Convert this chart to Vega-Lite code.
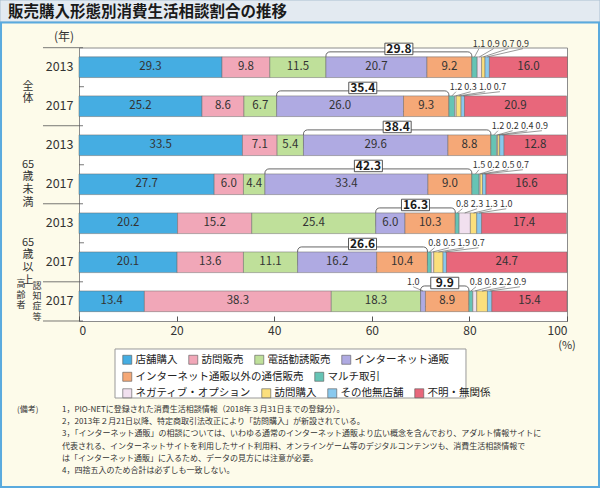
{
  "$schema": "https://vega.github.io/schema/vega-lite/v6.json",
  "width": 488,
  "height": 273.5,
  "autosize": {"type": "none"},
  "padding": {"left": 79, "top": 47.5, "right": 33, "bottom": 167},
  "background": "#fdfbea",
  "config": {
    "font": "Noto Sans CJK JP",
    "view": {"fill": "white", "stroke": "#8c8c8c", "strokeWidth": 1},
    "legend": {
      "orient": "none",
      "direction": "horizontal",
      "title": null,
      "padding": 0,
      "labelFontSize": 10.5,
      "labelColor": "#222",
      "labelLimit": 400,
      "symbolType": "square",
      "symbolSize": 81,
      "symbolStrokeColor": "#555",
      "symbolStrokeWidth": 0.6,
      "symbolOpacity": 1,
      "columnPadding": 9,
      "labelOffset": 3
    }
  },
  "datasets": {
    "main": [
      {"r": "a2013", "c": "店舗購入", "v": 29.3},
      {"r": "a2013", "c": "訪問販売", "v": 9.8},
      {"r": "a2013", "c": "電話勧誘販売", "v": 11.5},
      {"r": "a2013", "c": "インターネット通販", "v": 20.7},
      {"r": "a2013", "c": "インターネット通販以外の通信販売", "v": 9.2},
      {"r": "a2013", "c": "マルチ取引", "v": 1.1},
      {"r": "a2013", "c": "ネガティブ・オプション", "v": 0.9},
      {"r": "a2013", "c": "訪問購入", "v": 0.7},
      {"r": "a2013", "c": "その他無店舗", "v": 0.9},
      {"r": "a2013", "c": "不明・無関係", "v": 16.0},
      {"r": "a2017", "c": "店舗購入", "v": 25.2},
      {"r": "a2017", "c": "訪問販売", "v": 8.6},
      {"r": "a2017", "c": "電話勧誘販売", "v": 6.7},
      {"r": "a2017", "c": "インターネット通販", "v": 26.0},
      {"r": "a2017", "c": "インターネット通販以外の通信販売", "v": 9.3},
      {"r": "a2017", "c": "マルチ取引", "v": 1.2},
      {"r": "a2017", "c": "ネガティブ・オプション", "v": 0.3},
      {"r": "a2017", "c": "訪問購入", "v": 1.0},
      {"r": "a2017", "c": "その他無店舗", "v": 0.7},
      {"r": "a2017", "c": "不明・無関係", "v": 20.9},
      {"r": "b2013", "c": "店舗購入", "v": 33.5},
      {"r": "b2013", "c": "訪問販売", "v": 7.1},
      {"r": "b2013", "c": "電話勧誘販売", "v": 5.4},
      {"r": "b2013", "c": "インターネット通販", "v": 29.6},
      {"r": "b2013", "c": "インターネット通販以外の通信販売", "v": 8.8},
      {"r": "b2013", "c": "マルチ取引", "v": 1.2},
      {"r": "b2013", "c": "ネガティブ・オプション", "v": 0.2},
      {"r": "b2013", "c": "訪問購入", "v": 0.4},
      {"r": "b2013", "c": "その他無店舗", "v": 0.9},
      {"r": "b2013", "c": "不明・無関係", "v": 12.8},
      {"r": "b2017", "c": "店舗購入", "v": 27.7},
      {"r": "b2017", "c": "訪問販売", "v": 6.0},
      {"r": "b2017", "c": "電話勧誘販売", "v": 4.4},
      {"r": "b2017", "c": "インターネット通販", "v": 33.4},
      {"r": "b2017", "c": "インターネット通販以外の通信販売", "v": 9.0},
      {"r": "b2017", "c": "マルチ取引", "v": 1.5},
      {"r": "b2017", "c": "ネガティブ・オプション", "v": 0.2},
      {"r": "b2017", "c": "訪問購入", "v": 0.5},
      {"r": "b2017", "c": "その他無店舗", "v": 0.7},
      {"r": "b2017", "c": "不明・無関係", "v": 16.6},
      {"r": "c2013", "c": "店舗購入", "v": 20.2},
      {"r": "c2013", "c": "訪問販売", "v": 15.2},
      {"r": "c2013", "c": "電話勧誘販売", "v": 25.4},
      {"r": "c2013", "c": "インターネット通販", "v": 6.0},
      {"r": "c2013", "c": "インターネット通販以外の通信販売", "v": 10.3},
      {"r": "c2013", "c": "マルチ取引", "v": 0.8},
      {"r": "c2013", "c": "ネガティブ・オプション", "v": 2.3},
      {"r": "c2013", "c": "訪問購入", "v": 1.3},
      {"r": "c2013", "c": "その他無店舗", "v": 1.0},
      {"r": "c2013", "c": "不明・無関係", "v": 17.4},
      {"r": "c2017", "c": "店舗購入", "v": 20.1},
      {"r": "c2017", "c": "訪問販売", "v": 13.6},
      {"r": "c2017", "c": "電話勧誘販売", "v": 11.1},
      {"r": "c2017", "c": "インターネット通販", "v": 16.2},
      {"r": "c2017", "c": "インターネット通販以外の通信販売", "v": 10.4},
      {"r": "c2017", "c": "マルチ取引", "v": 0.8},
      {"r": "c2017", "c": "ネガティブ・オプション", "v": 0.5},
      {"r": "c2017", "c": "訪問購入", "v": 1.9},
      {"r": "c2017", "c": "その他無店舗", "v": 0.7},
      {"r": "c2017", "c": "不明・無関係", "v": 24.7},
      {"r": "d2017", "c": "店舗購入", "v": 13.4},
      {"r": "d2017", "c": "訪問販売", "v": 38.3},
      {"r": "d2017", "c": "電話勧誘販売", "v": 18.3},
      {"r": "d2017", "c": "インターネット通販", "v": 1.0},
      {"r": "d2017", "c": "インターネット通販以外の通信販売", "v": 8.9},
      {"r": "d2017", "c": "マルチ取引", "v": 0.8},
      {"r": "d2017", "c": "ネガティブ・オプション", "v": 0.8},
      {"r": "d2017", "c": "訪問購入", "v": 2.2},
      {"r": "d2017", "c": "その他無店舗", "v": 0.9},
      {"r": "d2017", "c": "不明・無関係", "v": 15.4}
    ],
    "brackets": [
      {"r": "a2013", "t": 29.8},
      {"r": "a2017", "t": 35.4},
      {"r": "b2013", "t": 38.4},
      {"r": "b2017", "t": 42.3},
      {"r": "c2013", "t": 16.3},
      {"r": "c2017", "t": 26.6},
      {"r": "d2017", "t": 9.9}
    ],
    "groups": [
      {"r": "a2013", "t": ["全", "体"]},
      {"r": "b2013", "t": ["65", "歳", "未", "満"]},
      {"r": "c2013", "t": ["65", "歳", "以", "上"]}
    ],
    "seps": [{"r": "a2013"}, {"r": "b2013"}, {"r": "c2013"}, {"r": "d2017"}],
    "ticks": [{"r": "a2017"}, {"r": "b2017"}, {"r": "c2017"}]
  },
  "layer": [
    {
      "data": {"values": [{}]},
      "mark": {"type": "rect", "fill": "#e3eaf1", "stroke": "#9fb8cc", "strokeWidth": 0.8, "height": {"band": 1.064}, "yOffset": -56.2},
      "encoding": {
        "x": {"datum": -16.19, "type": "quantitative", "scale": {"domain": [0, 100]}},
        "x2": {"datum": 106.76},
        "y": {"datum": "a2013", "type": "nominal"}
      }
    },
    {
      "data": {"values": [{}]},
      "mark": {"type": "rect", "fill": "transparent", "stroke": "#5aaade", "strokeWidth": 2, "height": {"band": 22.46}, "yOffset": 187.5},
      "encoding": {
        "x": {"datum": -15.98, "type": "quantitative", "scale": {"domain": [0, 100]}},
        "x2": {"datum": 106.56},
        "y": {"datum": "a2013", "type": "nominal"}
      }
    },
    {
      "data": {"values": [{}]},
      "mark": {"type": "text", "text": "販売購入形態別消費生活相談割合の推移", "fontSize": 15.5, "fontWeight": "bold", "color": "#1a1a1a", "align": "left", "baseline": "middle", "yOffset": -55.7},
      "encoding": {
        "x": {"datum": -14.55, "type": "quantitative", "scale": {"domain": [0, 100]}},
        "y": {"datum": "a2013", "type": "nominal"}
      }
    },
    {
      "data": {"values": [{}]},
      "mark": {"type": "rect", "fill": "white", "stroke": "#999", "strokeWidth": 1, "height": {"band": 2.37}, "yOffset": 72.2},
      "encoding": {
        "x": {"datum": 7.38, "type": "quantitative", "scale": {"domain": [0, 100]}},
        "x2": {"datum": 79.3},
        "y": {"datum": "d2017", "type": "nominal"}
      }
    },
    {
      "data": {"name": "main"},
      "transform": [
        {"lookup": "r", "from": {"data": {"name": "brackets"}, "key": "r", "fields": ["t"]}},
        {"calculate": "indexof(['店舗購入','訪問販売','電話勧誘販売','インターネット通販','インターネット通販以外の通信販売','マルチ取引','ネガティブ・オプション','訪問購入','その他無店舗','不明・無関係'], datum.c)", "as": "k"},
        {"stack": "v", "groupby": ["r"], "sort": [{"field": "k", "order": "ascending"}], "as": ["x0", "x1"]},
        {"calculate": "(datum.x0 + datum.x1) / 2", "as": "xm"},
        {"calculate": "datum.k == 5 ? datum.x0 : null", "as": "m0"},
        {"calculate": "datum.k == 3 ? datum.x0 : null", "as": "b0"},
        {"calculate": "datum.k == 4 ? datum.x1 : null", "as": "b1"},
        {"joinaggregate": [
          {"op": "max", "field": "m0", "as": "ms"},
          {"op": "max", "field": "b0", "as": "bs"},
          {"op": "max", "field": "b1", "as": "be"}
        ], "groupby": ["r"]},
        {"calculate": "datum.k >= 5 && datum.k <= 8 ? datum.ms + 1.45 + (datum.k - 5) * 3.0 : datum.x0 - 1.5", "as": "lx"},
        {"calculate": "(datum.bs + datum.be) / 2", "as": "bm"}
      ],
      "encoding": {
        "y": {
          "field": "r",
          "type": "nominal",
          "scale": {
            "domain": ["a2013", "a2017", "b2013", "b2017", "c2013", "c2017", "d2017"],
            "paddingInner": 0.47,
            "paddingOuter": 0.24
          },
          "axis": {
            "title": "(年)",
            "titleAngle": 0,
            "titleX": -15.5,
            "titleY": -11,
            "titleAlign": "center",
            "titleBaseline": "middle",
            "titleFontSize": 12,
            "titleFontWeight": "normal",
            "titleColor": "#333",
            "labelExpr": "substring(datum.value, 1)",
            "labelFontSize": 12.5,
            "labelColor": "#333",
            "labelPadding": 6,
            "ticks": false,
            "domain": false,
            "grid": false
          }
        },
        "x": {
          "field": "x0",
          "type": "quantitative",
          "scale": {"domain": [0, 100]},
          "axis": {
            "title": "(%)",
            "titleX": 487.5,
            "titleY": 24,
            "titleAlign": "center",
            "titleBaseline": "middle",
            "titleFontSize": 11,
            "titleFontWeight": "normal",
            "titleColor": "#333",
            "values": [0, 20, 40, 60, 80, 100],
            "tickSize": -5,
            "tickColor": "#555",
            "labelPadding": 9,
            "labelFontSize": 12,
            "labelColor": "#333",
            "domain": false,
            "grid": false
          }
        }
      },
      "resolve": {"scale": {"color": "independent"}},
      "layer": [
        {
          "transform": [{"filter": "datum.k == 3"}],
          "mark": {"type": "rect", "fill": "transparent", "stroke": "#555", "strokeWidth": 0.9, "cornerRadius": 4, "yOffset": -5},
          "encoding": {
            "x": {"field": "bs", "type": "quantitative"},
            "x2": {"field": "be"}
          }
        },
        {
          "transform": [{"filter": "datum.k <= 3"}],
          "mark": {"type": "bar", "stroke": "#6a6a6a", "strokeWidth": 0.5},
          "encoding": {
            "x2": {"field": "x1"},
            "color": {
              "field": "c",
              "type": "nominal",
              "scale": {
                "domain": ["店舗購入", "訪問販売", "電話勧誘販売", "インターネット通販"],
                "range": ["#45ade2", "#f1a7b8", "#bfe09a", "#afaae2"]
              },
              "legend": {"legendX": 43, "legendY": 307, "encode": {"symbols": {"update": {"stroke": {"value": "#555"}}}}}
            }
          }
        },
        {
          "transform": [{"filter": "datum.k == 4 || datum.k == 5"}],
          "mark": {"type": "bar", "stroke": "#6a6a6a", "strokeWidth": 0.5},
          "encoding": {
            "x2": {"field": "x1"},
            "color": {
              "field": "c",
              "type": "nominal",
              "scale": {
                "domain": ["インターネット通販以外の通信販売", "マルチ取引"],
                "range": ["#f5a877", "#66c4b5"]
              },
              "legend": {"legendX": 43, "legendY": 324, "encode": {"symbols": {"update": {"stroke": {"value": "#555"}}}}}
            }
          }
        },
        {
          "transform": [{"filter": "datum.k >= 6"}],
          "mark": {"type": "bar", "stroke": "#6a6a6a", "strokeWidth": 0.5},
          "encoding": {
            "x2": {"field": "x1"},
            "color": {
              "field": "c",
              "type": "nominal",
              "scale": {
                "domain": ["ネガティブ・オプション", "訪問購入", "その他無店舗", "不明・無関係"],
                "range": ["#f1e0ef", "#fbdf7c", "#89c9ee", "#e8677b"]
              },
              "legend": {"legendX": 43, "legendY": 340.5, "encode": {"symbols": {"update": {"stroke": {"value": "#555"}}}}}
            }
          }
        },
        {
          "transform": [{"filter": "(datum.k <= 4 || datum.k == 9) && datum.v >= 3"}],
          "mark": {"type": "text", "fontSize": 11.5, "color": "#333", "baseline": "middle"},
          "encoding": {
            "x": {"field": "xm", "type": "quantitative"},
            "text": {"field": "v", "type": "quantitative", "format": ".1f"}
          }
        },
        {
          "transform": [{"filter": "((datum.k >= 5 && datum.k <= 8) || (datum.k == 3 && datum.v < 3)) && datum.r != 'a2013'"}],
          "mark": {"type": "rule", "stroke": "#555", "strokeWidth": 0.6, "yOffset": -10.3, "y2Offset": -14.5},
          "encoding": {
            "x": {"field": "xm", "type": "quantitative"},
            "x2": {"field": "lx"},
            "y2": {"field": "r"}
          }
        },
        {
          "transform": [{"filter": "((datum.k >= 5 && datum.k <= 8) || (datum.k == 3 && datum.v < 3)) && datum.r != 'a2013'"}],
          "mark": {"type": "text", "fontSize": 9, "color": "#333", "baseline": "middle", "yOffset": -19.5},
          "encoding": {
            "x": {"field": "lx", "type": "quantitative"},
            "text": {"field": "v", "type": "quantitative", "format": ".1f"}
          }
        },
        {
          "transform": [{"filter": "datum.k >= 5 && datum.k <= 8 && datum.r == 'a2013'"}],
          "mark": {"type": "rule", "stroke": "#555", "strokeWidth": 0.6, "yOffset": -10.3, "y2Offset": -18.5},
          "encoding": {
            "x": {"field": "xm", "type": "quantitative"},
            "x2": {"field": "lx"},
            "y2": {"field": "r"}
          }
        },
        {
          "transform": [{"filter": "datum.k >= 5 && datum.k <= 8 && datum.r == 'a2013'"}],
          "mark": {"type": "text", "fontSize": 9, "color": "#333", "baseline": "middle", "yOffset": -23.5},
          "encoding": {
            "x": {"field": "lx", "type": "quantitative"},
            "text": {"field": "v", "type": "quantitative", "format": ".1f"}
          }
        },
        {
          "transform": [{"filter": "datum.k == 3"}],
          "mark": {"type": "point", "shape": "M-1,-0.41H1V0.41H-1Z", "size": 784, "filled": true, "fill": "white", "stroke": "#444", "strokeWidth": 0.9, "opacity": 1, "yOffset": -18.3},
          "encoding": {
            "x": {"field": "bm", "type": "quantitative"}
          }
        },
        {
          "transform": [{"filter": "datum.k == 3"}],
          "mark": {"type": "text", "fontSize": 12, "fontWeight": "bold", "color": "#1a1a1a", "baseline": "middle", "yOffset": -18.3},
          "encoding": {
            "x": {"field": "bm", "type": "quantitative"},
            "text": {"field": "t", "type": "quantitative", "format": ".1f"}
          }
        }
      ]
    },
    {
      "data": {"name": "seps"},
      "mark": {"type": "rule", "stroke": "#555", "strokeWidth": 0.8, "yOffset": -19.5},
      "encoding": {
        "x": {"datum": -7.38, "type": "quantitative", "scale": {"domain": [0, 100]}},
        "x2": {"datum": 0.82},
        "y": {"field": "r", "type": "nominal"}
      }
    },
    {
      "data": {"values": [{}]},
      "mark": {"type": "rule", "stroke": "#555", "strokeWidth": 0.8, "yOffset": 19.7},
      "encoding": {
        "x": {"datum": -7.38, "type": "quantitative", "scale": {"domain": [0, 100]}},
        "x2": {"datum": 0.82},
        "y": {"datum": "d2017", "type": "nominal"}
      }
    },
    {
      "data": {"name": "ticks"},
      "mark": {"type": "rule", "stroke": "#555", "strokeWidth": 0.8, "yOffset": -19.5},
      "encoding": {
        "x": {"datum": 0, "type": "quantitative", "scale": {"domain": [0, 100]}},
        "x2": {"datum": 1.02},
        "y": {"field": "r", "type": "nominal"}
      }
    },
    {
      "data": {"name": "groups"},
      "mark": {"type": "text", "fontSize": 11, "lineHeight": 12.7, "color": "#333", "baseline": "middle", "align": "center", "yOffset": 19.5},
      "encoding": {
        "x": {"datum": -10.45, "type": "quantitative", "scale": {"domain": [0, 100]}},
        "y": {"field": "r", "type": "nominal"},
        "text": {"field": "t", "type": "nominal"}
      }
    },
    {
      "data": {"values": [{}]},
      "mark": {"type": "text", "text": "認", "fontSize": 9, "color": "#333", "baseline": "middle", "align": "center", "yOffset": -15.5},
      "encoding": {
        "x": {"datum": -8.6, "type": "quantitative", "scale": {"domain": [0, 100]}},
        "y": {"datum": "d2017", "type": "nominal"}
      }
    },
    {
      "data": {"values": [{}]},
      "mark": {"type": "text", "text": "知", "fontSize": 9, "color": "#333", "baseline": "middle", "align": "center", "yOffset": -5.2},
      "encoding": {
        "x": {"datum": -8.6, "type": "quantitative", "scale": {"domain": [0, 100]}},
        "y": {"datum": "d2017", "type": "nominal"}
      }
    },
    {
      "data": {"values": [{}]},
      "mark": {"type": "text", "text": "症", "fontSize": 9, "color": "#333", "baseline": "middle", "align": "center", "yOffset": 5.1},
      "encoding": {
        "x": {"datum": -8.6, "type": "quantitative", "scale": {"domain": [0, 100]}},
        "y": {"datum": "d2017", "type": "nominal"}
      }
    },
    {
      "data": {"values": [{}]},
      "mark": {"type": "text", "text": "等", "fontSize": 9, "color": "#333", "baseline": "middle", "align": "center", "yOffset": 15.4},
      "encoding": {
        "x": {"datum": -8.6, "type": "quantitative", "scale": {"domain": [0, 100]}},
        "y": {"datum": "d2017", "type": "nominal"}
      }
    },
    {
      "data": {"values": [{}]},
      "mark": {"type": "text", "text": "高", "fontSize": 9, "color": "#333", "baseline": "middle", "align": "center", "yOffset": -17},
      "encoding": {
        "x": {"datum": -11.9, "type": "quantitative", "scale": {"domain": [0, 100]}},
        "y": {"datum": "d2017", "type": "nominal"}
      }
    },
    {
      "data": {"values": [{}]},
      "mark": {"type": "text", "text": "齢", "fontSize": 9, "color": "#333", "baseline": "middle", "align": "center", "yOffset": -6.7},
      "encoding": {
        "x": {"datum": -11.9, "type": "quantitative", "scale": {"domain": [0, 100]}},
        "y": {"datum": "d2017", "type": "nominal"}
      }
    },
    {
      "data": {"values": [{}]},
      "mark": {"type": "text", "text": "者", "fontSize": 9, "color": "#333", "baseline": "middle", "align": "center", "yOffset": 3.6},
      "encoding": {
        "x": {"datum": -11.9, "type": "quantitative", "scale": {"domain": [0, 100]}},
        "y": {"datum": "d2017", "type": "nominal"}
      }
    },
    {
      "data": {"values": [{}]},
      "mark": {"type": "text", "text": "(備考)", "fontSize": 8, "color": "#333", "baseline": "top", "align": "left", "yOffset": 104.7},
      "encoding": {
        "x": {"datum": -12.7, "type": "quantitative", "scale": {"domain": [0, 100]}},
        "y": {"datum": "d2017", "type": "nominal"}
      }
    },
    {
      "data": {"values": [{}]},
      "mark": {
        "type": "text",
        "text": [
          "1，PIO-NETに登録された消費生活相談情報（2018年３月31日までの登録分）。",
          "2，2013年２月21日以降、特定商取引法改正により「訪問購入」が新設されている。",
          "3，「インターネット通販」の相談については、いわゆる通常のインターネット通販より広い概念を含んでおり、アダルト情報サイトに",
          "　 代表される、インターネットサイトを利用したサイト利用料、オンラインゲーム等のデジタルコンテンツも、消費生活相談情報で",
          "　 は「インターネット通販」に入るため、データの見方には注意が必要。",
          "4，四捨五入のため合計は必ずしも一致しない。"
        ],
        "fontSize": 8,
        "lineHeight": 12.2,
        "color": "#333",
        "baseline": "top",
        "align": "left",
        "yOffset": 104.7
      },
      "encoding": {
        "x": {"datum": -3.48, "type": "quantitative", "scale": {"domain": [0, 100]}},
        "y": {"datum": "d2017", "type": "nominal"}
      }
    }
  ]
}
